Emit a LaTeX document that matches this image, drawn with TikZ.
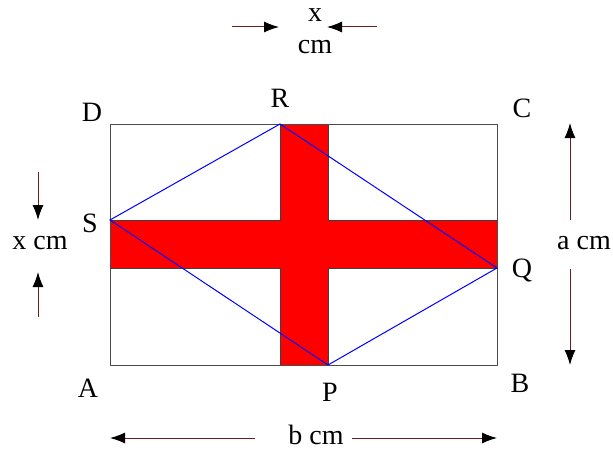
\documentclass[tikz,border=0pt]{standalone}
\usepackage{fontspec}
\setmainfont{Liberation Serif}
\usetikzlibrary{arrows.meta}
\definecolor{dimred}{RGB}{110,30,30}
\begin{document}
\begin{tikzpicture}[x=1pt,y=-1pt,
  lbl/.style={font=\fontsize{28}{32}\selectfont, inner sep=0pt},
  dim/.style={draw=dimred, line width=1pt, -{Latex[length=15pt,width=11pt,color=black]}},
]
\useasboundingbox (0,0) rectangle (613,452);
\coordinate (A) at (110,365);
\coordinate (B) at (497,365);
\coordinate (C) at (497,124);
\coordinate (D) at (110,124);
\coordinate (R) at (280,124);
\coordinate (S) at (110,220);
\coordinate (P) at (328,365);
\coordinate (Q) at (497,268);
% cross
\fill[red, draw=black!75, line width=0.8pt]
  (280,124) -- (328,124) -- (328,220) -- (497,220) -- (497,268) -- (328,268)
  -- (328,365) -- (280,365) -- (280,268) -- (110,268) -- (110,220) -- (280,220) -- cycle;
% rectangle
\draw[black!70, line width=0.8pt] (A) rectangle (C);
% rhombus
\draw[blue, line width=1pt] (R) -- (S) -- (P) -- (Q) -- cycle;
% vertex labels
\node[lbl] (lD) at (92,112) {D};
\node[lbl] (lR) at (280,98) {R};
\node[lbl] (lC) at (522,108) {C};
\node[lbl] (lS) at (90,223) {S};
\node[lbl] (lQ) at (522,270) {Q};
\node[lbl] (lA) at (88,388) {A};
\node[lbl] (lP) at (330,392) {P};
\node[lbl] (lB) at (520,383) {B};
% dimension labels
\node[lbl] (tx) at (315,15) {x};
\node[lbl] (tcm) at (315,47) {cm};
\node[lbl] (lx) at (40,243) {x cm};
\node[lbl] (ra) at (584,243) {a cm};
\node[lbl] (bb) at (316,435) {b cm};
% dimension arrows
\coordinate (t1s) at (232,27); \coordinate (t1e) at (279,27);
\coordinate (t2s) at (377,27); \coordinate (t2e) at (327,27);
\draw[dim] (t1s) -- (t1e);
\draw[dim] (t2s) -- (t2e);
\coordinate (l1s) at (38,172); \coordinate (l1e) at (38,220);
\coordinate (l2s) at (38,317); \coordinate (l2e) at (38,272);
\draw[dim] (l1s) -- (l1e);
\draw[dim] (l2s) -- (l2e);
\coordinate (r1s) at (570,220); \coordinate (r1e) at (570,123);
\coordinate (r2s) at (570,269); \coordinate (r2e) at (570,365);
\draw[dim] (r1s) -- (r1e);
\draw[dim] (r2s) -- (r2e);
\coordinate (b1s) at (255,438); \coordinate (b1e) at (110,438);
\coordinate (b2s) at (352,438); \coordinate (b2e) at (497,438);
\draw[dim] (b1s) -- (b1e);
\draw[dim] (b2s) -- (b2e);
\end{tikzpicture}
\end{document}
